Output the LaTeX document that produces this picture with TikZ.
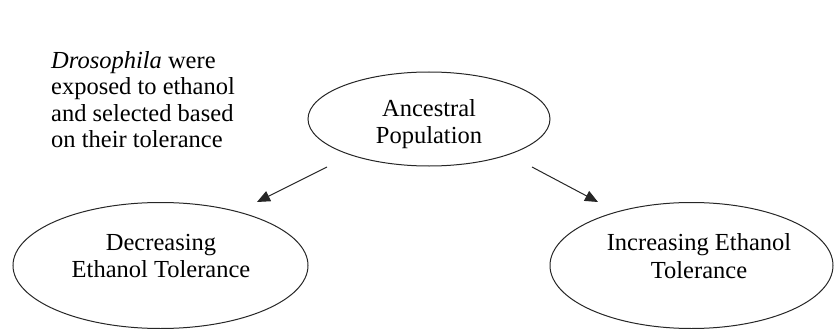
\documentclass[tikz,border=0pt]{standalone}
\usepackage{fontspec}
\setmainfont{Liberation Serif}
\usetikzlibrary{shapes.geometric,arrows.meta}
\tikzset{
  oval/.style={draw=black!85, line width=1pt, ellipse, inner sep=0pt},
  lbl/.style={inner sep=0pt, align=center, text=black, font=\fontsize{24.5}{27.5}\selectfont},
  note/.style={inner sep=0pt, align=left, text=black, font=\fontsize{24.5}{26.5}\selectfont},
  arr/.style={draw=black!85, line width=1pt, -{Triangle[length=13pt,width=11pt]}}
}
\begin{document}
\begin{tikzpicture}[x=1pt,y=-1pt]
\useasboundingbox (0,0) rectangle (835,329);
\node[note, anchor=north west] (txt) at (51,51) {\textit{Drosophila} were\\exposed to ethanol\\and selected based\\on their tolerance};
\node[oval, minimum width=242pt, minimum height=94pt] (anc) at (429,119) {};
\node[lbl] (ancl) at (429,124) {Ancestral\\Population};
\node[oval, minimum width=295pt, minimum height=126pt] (dec) at (160.5,265.5) {};
\node[lbl] (decl) at (161,256) {Decreasing\\Ethanol Tolerance};
\node[oval, minimum width=283pt, minimum height=126pt] (inc) at (691.5,265.5) {};
\node[lbl] (incl) at (699,256) {Increasing Ethanol\\Tolerance};
\coordinate (a1s) at (327,167);
\coordinate (a1e) at (257,202);
\coordinate (a2s) at (532,167);
\coordinate (a2e) at (598,202);
\draw[arr] (a1s) -- (a1e);
\draw[arr] (a2s) -- (a2e);
\end{tikzpicture}
\end{document}
